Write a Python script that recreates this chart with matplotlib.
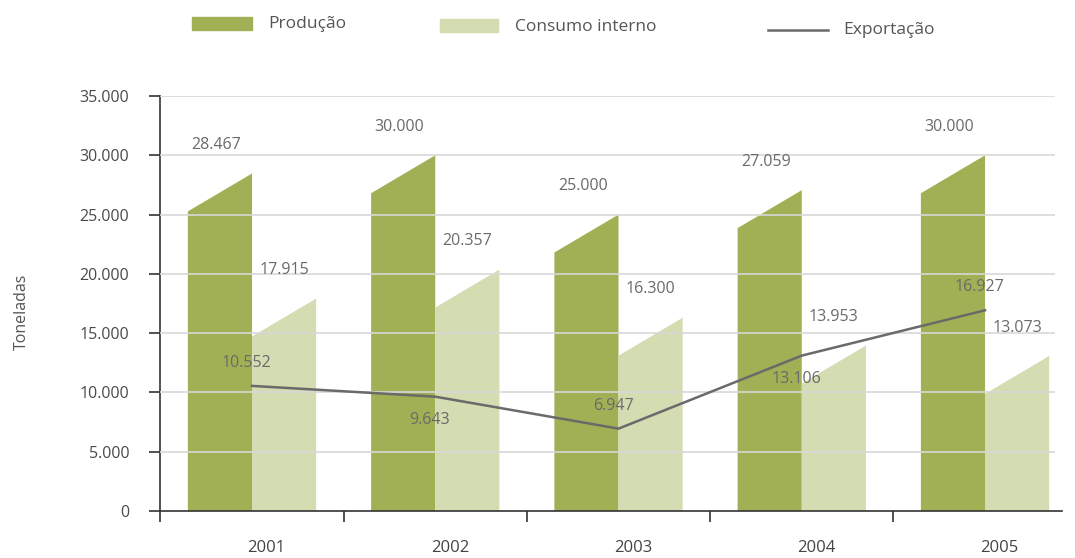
import matplotlib

matplotlib.use("Agg")

import matplotlib.pyplot as plt
from matplotlib.lines import Line2D
from matplotlib.patches import Rectangle

plt.rcParams["font.family"] = ["Open Sans", "DejaVu Sans"]

years = ["2001", "2002", "2003", "2004", "2005"]
producao = [28467, 30000, 25000, 27059, 30000]
consumo = [17915, 20357, 16300, 13953, 13073]
exportacao = [10552, 9643, 6947, 13106, 16927]
export_label_side = [1, -1, 1, -1, 1]

C_PROD = "#a2b055"
C_CONS = "#d4dcb2"
C_LINE = "#6a6a6a"
C_TEXT = "#6a6a6a"

W, H = 1075, 558
fig = plt.figure(figsize=(W / 100, H / 100), dpi=100)
ax = fig.add_axes([160 / W, 1 - 511 / H, (1062 - 160) / W, (511 - 96) / H])

bar_w = 0.35
slant = 3200


def slanted_bar(x_left, value, color):
    xs = [x_left, x_left + bar_w, x_left + bar_w, x_left]
    ys = [0, 0, value, value - slant]
    ax.fill(xs, ys, color=color, linewidth=0, zorder=2)


for i, (p, c) in enumerate(zip(producao, consumo)):
    slanted_bar(i - bar_w, p, C_PROD)
    slanted_bar(i, c, C_CONS)
    ax.text(i - bar_w / 2 - 0.02, p + 2400, f"{p:,}".replace(",", "."),
            ha="center", va="center", fontsize=11.5, color=C_TEXT, zorder=5)
    ax.text(i + bar_w / 2, c + 2400, f"{c:,}".replace(",", "."),
            ha="center", va="center", fontsize=11.5, color=C_TEXT, zorder=5)

xs = list(range(len(years)))
ax.plot(xs, exportacao, color=C_LINE, linewidth=1.8, zorder=4)
for i, (v, side) in enumerate(zip(exportacao, export_label_side)):
    ax.text(i - 0.03, v + side * 1950, f"{v:,}".replace(",", "."),
            ha="center", va="center", fontsize=11.5, color=C_TEXT, zorder=5)

ax.set_xlim(-0.502, 4.42)
ax.set_ylim(0, 35000)
ax.hlines(range(5000, 35001, 5000), -0.502, 4.38, color="#d8d8d8",
          linewidth=1.2, zorder=3)

ax.set_yticks(range(0, 35001, 5000))
ax.set_yticklabels([f"{v:,}".replace(",", ".") for v in range(0, 35001, 5000)])
ax.set_xticks([-0.5, 0.5, 1.5, 2.5, 3.5])
ax.set_xticklabels([])
ax.set_xticks([i + 0.08 for i in xs], minor=True)
ax.set_xticklabels(years, minor=True)
ax.tick_params(axis="x", which="minor", length=0, pad=21, labelsize=12, labelcolor="#444444")
ax.tick_params(axis="x", which="major", length=8, width=1.2, color="#333333", direction="out")
ax.tick_params(axis="y", length=8, width=1.2, color="#333333", direction="out",
               labelsize=11.5, labelcolor="#4a4a4a", pad=14)

for side in ("top", "right"):
    ax.spines[side].set_visible(False)
for side in ("left", "bottom"):
    ax.spines[side].set_color("#333333")
    ax.spines[side].set_linewidth(1.2)

fig.text(22 / W, 1 - 312 / H, "Toneladas", rotation=90, ha="center", va="center",
         fontsize=11.5, color="#555555")

# legend drawn by hand to keep the wide spacing of the original
fig.patches.append(Rectangle((192 / W, 1 - 30 / H), 60 / W, 13 / H,
                             transform=fig.transFigure, color=C_PROD))
fig.text(268 / W, 1 - 24 / H, "Produção", ha="left", va="center", fontsize=12.5, color="#555555")
fig.patches.append(Rectangle((440 / W, 1 - 32 / H), 58 / W, 13 / H,
                             transform=fig.transFigure, color=C_CONS))
fig.text(515 / W, 1 - 27 / H, "Consumo interno", ha="left", va="center", fontsize=12.5, color="#555555")
fig.lines.append(Line2D([768 / W, 828 / W], [1 - 30 / H, 1 - 30 / H],
                        transform=fig.transFigure, color=C_LINE, linewidth=1.8))
fig.text(843 / W, 1 - 30 / H, "Exportação", ha="left", va="center", fontsize=12.5, color="#555555")

fig.savefig("out.png", dpi=100)
